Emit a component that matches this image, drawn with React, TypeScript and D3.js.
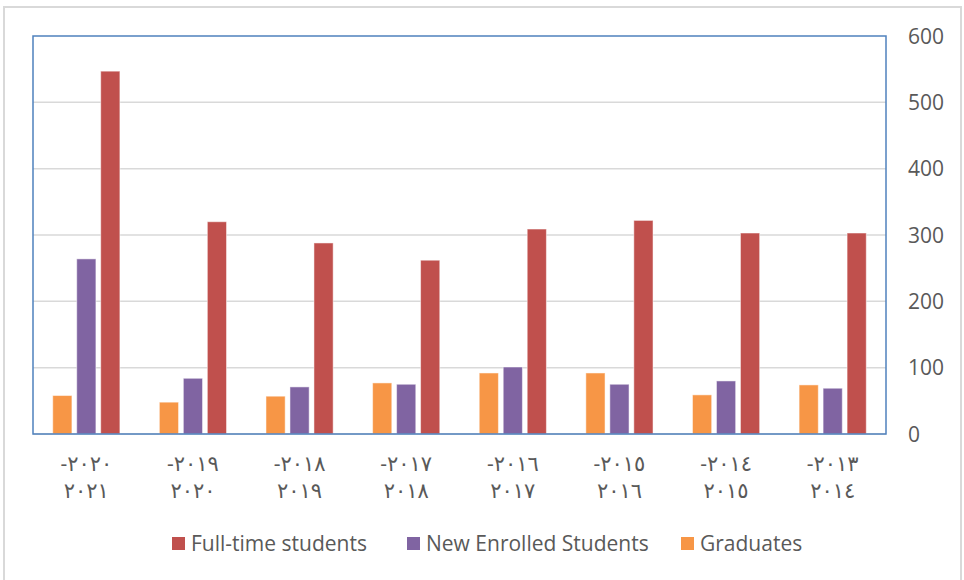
import React, { useEffect, useRef } from 'react';
import * as d3 from 'd3';

const years: [string, string][] = [
  ['-٢٠٢٠', '٢٠٢١'],
  ['-٢٠١٩', '٢٠٢٠'],
  ['-٢٠١٨', '٢٠١٩'],
  ['-٢٠١٧', '٢٠١٨'],
  ['-٢٠١٦', '٢٠١٧'],
  ['-٢٠١٥', '٢٠١٦'],
  ['-٢٠١٤', '٢٠١٥'],
  ['-٢٠١٣', '٢٠١٤'],
];
const graduates = [58, 48, 57, 77, 92, 92, 59, 74];
const newEnrolled = [264, 84, 71, 75, 101, 75, 80, 69];
const fullTime = [547, 320, 288, 262, 309, 322, 303, 303];
const yTicks = [0, 100, 200, 300, 400, 500, 600];

const series = [
  { key: 'Graduates', values: graduates, color: '#f79646' },
  { key: 'New Enrolled Students', values: newEnrolled, color: '#8064a2' },
  { key: 'Full-time students', values: fullTime, color: '#c0504d' },
];

const App: React.FC = () => {
  const svgRef = useRef<SVGSVGElement>(null);

  useEffect(() => {
    if (!svgRef.current) return;
    const width = 964;
    const height = 580;
    const left = 33, right = 886, top = 36, bottom = 434;
    const font = 'Open Sans, DejaVu Sans, sans-serif';
    const textColor = '#595959';

    const svg = d3.select(svgRef.current)
      .attr('width', width)
      .attr('height', height)
      .html('');

    // outer chart border
    svg.append('rect')
      .attr('x', 4).attr('y', 7)
      .attr('width', 957).attr('height', 580)
      .attr('fill', '#fff')
      .attr('stroke', '#d9d9d9')
      .attr('stroke-width', 2);

    const cats = years.map((_, i) => String(i));
    const x0 = d3.scaleBand<string>().domain(cats).range([left, right])
      .paddingInner(0.37).paddingOuter(0.185);
    const x1 = d3.scaleBand<string>().domain(series.map(s => s.key))
      .range([0, x0.bandwidth()]).paddingInner(0.2);
    const y = d3.scaleLinear().domain([0, 600]).range([bottom, top]);

    // gridlines
    svg.append('g')
      .selectAll('line')
      .data(yTicks.filter(t => t > 0 && t < 600))
      .enter()
      .append('line')
      .attr('x1', left).attr('x2', right)
      .attr('y1', d => y(d)).attr('y2', d => y(d))
      .attr('stroke', '#d9d9d9')
      .attr('stroke-width', 1.5);

    // baseline
    svg.append('line')
      .attr('x1', left).attr('x2', right)
      .attr('y1', y(0)).attr('y2', y(0))
      .attr('stroke', '#d9d9d9')
      .attr('stroke-width', 1.5);

    // bars
    const groups = svg.append('g')
      .selectAll('g')
      .data(cats)
      .enter()
      .append('g')
      .attr('transform', d => `translate(${x0(d)},0)`);

    groups.selectAll('rect')
      .data((_, i) => series.map(s => ({ key: s.key, value: s.values[i], color: s.color })))
      .enter()
      .append('rect')
      .attr('x', d => x1(d.key)!)
      .attr('width', x1.bandwidth())
      .attr('y', d => y(d.value))
      .attr('height', d => y(0) - y(d.value))
      .attr('fill', d => d.color)
      .attr('stroke', 'rgba(255,255,255,0.5)')
      .attr('stroke-width', 1);

    // plot area border
    svg.append('rect')
      .attr('x', left).attr('y', top)
      .attr('width', right - left).attr('height', bottom - top)
      .attr('fill', 'none')
      .attr('stroke', '#4f81bd')
      .attr('stroke-width', 1.5);

    // y axis labels (right side)
    svg.append('g')
      .selectAll('text')
      .data(yTicks)
      .enter()
      .append('text')
      .attr('x', 908)
      .attr('y', d => y(d))
      .attr('dy', '0.36em')
      .attr('fill', textColor)
      .attr('font-family', font)
      .attr('font-size', 21)
      .text(d => String(d));

    // x axis labels
    const xl = svg.append('g')
      .selectAll('text')
      .data(years)
      .enter()
      .append('text')
      .attr('text-anchor', 'middle')
      .attr('fill', textColor)
      .attr('font-family', font)
      .attr('font-size', 21)
      .attr('letter-spacing', 2)
      .style('direction', 'ltr')
      .style('unicode-bidi', 'bidi-override');
    xl.append('tspan')
      .attr('x', (_, i) => x0(String(i))! + x0.bandwidth() / 2)
      .attr('y', 471)
      .text(d => d[0]);
    xl.append('tspan')
      .attr('x', (_, i) => x0(String(i))! + x0.bandwidth() / 2)
      .attr('y', 498)
      .text(d => d[1]);

    // legend
    const legendItems = [
      { key: 'Full-time students', color: '#c0504d', x: 172 },
      { key: 'New Enrolled Students', color: '#8064a2', x: 407 },
      { key: 'Graduates', color: '#f79646', x: 681 },
    ];
    const lg = svg.append('g')
      .selectAll('g')
      .data(legendItems)
      .enter()
      .append('g')
      .attr('transform', d => `translate(${d.x},537)`);
    lg.append('rect')
      .attr('width', 13).attr('height', 13)
      .attr('fill', d => d.color);
    lg.append('text')
      .attr('x', 19)
      .attr('y', 14)
      .attr('fill', textColor)
      .attr('font-family', font)
      .attr('font-size', 21)
      .text(d => d.key);
  }, []);

  return (
    <div style={{ position: 'absolute', left: 0, top: 0 }}>
      <svg ref={svgRef} style={{ display: 'block' }} />
    </div>
  );
};

export default App;
